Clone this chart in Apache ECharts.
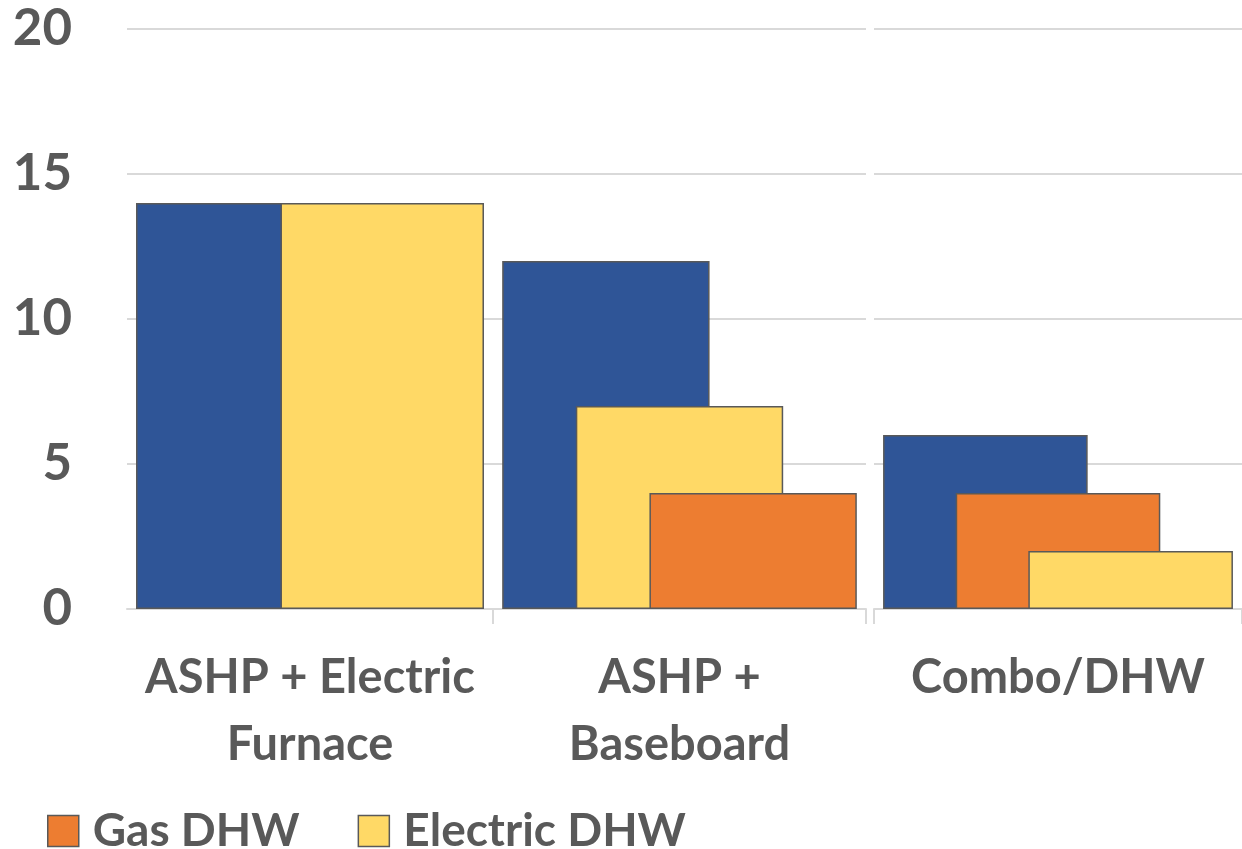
<!DOCTYPE html>
<html>
<head>
<meta charset="utf-8">
<title>Heating and DHW configurations</title>
<script src="https://cdn.jsdelivr.net/npm/echarts@6/dist/echarts.min.js"></script>
<style>
  html, body { margin: 0; padding: 0; background: #ffffff; }
  #chart { width: 1242px; height: 849px; }
</style>
</head>
<body>
<div id="chart"></div>
<script>
// System configurations, one panel each
const categories = ['ASHP + Electric\nFurnace', 'ASHP +\nBaseboard', 'Combo/DHW'];

// Values per configuration (null = not part of that configuration)
const heating = [14, 12, 6];
const gasDHW = [null, 4, 4];
const electricDHW = [14, 7, 2];

// Left-to-right bar order inside each panel
const barOrder = [
  ['Heating', 'Gas DHW', 'Electric DHW'],
  ['Heating', 'Electric DHW', 'Gas DHW'],
  ['Heating', 'Gas DHW', 'Electric DHW']
];

const yTicks = [0, 5, 10, 15, 20];

const seriesValues = { 'Heating': heating, 'Gas DHW': gasDHW, 'Electric DHW': electricDHW };
const seriesColors = { 'Heating': '#2F5597', 'Gas DHW': '#ED7D31', 'Electric DHW': '#FFD966' };

const FONT = 'Lato';
const TEXT = '#595959';
const GRIDLINE = '#D9D9D9';

// Panel placement (x extents in px)
const panels = [
  { left: 127, width: 366, ticks: false },
  { left: 493, width: 373, ticks: true },
  { left: 874, width: 375, ticks: true }
];

const grids = panels.map(p => ({ left: p.left, width: p.width, top: 29, bottom: 240, containLabel: false }));

const xAxes = panels.map((p, i) => ({
  type: 'category',
  gridIndex: i,
  data: [categories[i]],
  axisLine: { show: true, lineStyle: { color: GRIDLINE, width: 2 } },
  axisTick: { show: p.ticks, length: 15, lineStyle: { color: GRIDLINE, width: 2 } },
  axisLabel: {
    color: TEXT, fontFamily: FONT, fontWeight: 'bold', fontSize: 47,
    lineHeight: 67, margin: 35, interval: 0
  }
}));

const yAxes = panels.map((p, i) => ({
  type: 'value',
  gridIndex: i,
  min: yTicks[0],
  max: yTicks[yTicks.length - 1],
  interval: yTicks[1] - yTicks[0],
  axisLine: { show: false },
  axisTick: { show: false },
  axisLabel: {
    show: i === 0, color: TEXT, fontFamily: FONT, fontWeight: 'bold', fontSize: 51, margin: 55
  },
  splitLine: { show: true, lineStyle: { color: GRIDLINE, width: 2 } }
}));

const series = [];
barOrder.forEach((order, i) => {
  order.forEach(name => {
    series.push({
      name: name,
      type: 'bar',
      xAxisIndex: i,
      yAxisIndex: i,
      data: [seriesValues[name][i]],
      barWidth: '55.6%',
      barGap: '-64.5%',
      itemStyle: { color: seriesColors[name], borderColor: '#595959', borderWidth: 1.5 },
      emphasis: { disabled: true },
      animation: false
    });
  });
});

const chart = echarts.init(document.getElementById('chart'), null, { renderer: 'canvas' });
chart.setOption({
  backgroundColor: '#ffffff',
  animation: false,
  grid: grids,
  xAxis: xAxes,
  yAxis: yAxes,
  legend: {
    left: 47,
    top: 808,
    padding: 0,
    itemWidth: 31,
    itemHeight: 31,
    itemGap: 58,
    icon: 'rect',
    data: [
      { name: 'Gas DHW', itemStyle: { color: seriesColors['Gas DHW'], borderColor: '#595959', borderWidth: 1.5 } },
      { name: 'Electric DHW', itemStyle: { color: seriesColors['Electric DHW'], borderColor: '#595959', borderWidth: 1.5 } }
    ],
    textStyle: { color: TEXT, fontFamily: FONT, fontWeight: 'bold', fontSize: 46, lineHeight: 46, padding: [0, 0, 0, 9] }
  },
  series: series
});
</script>
</body>
</html>
